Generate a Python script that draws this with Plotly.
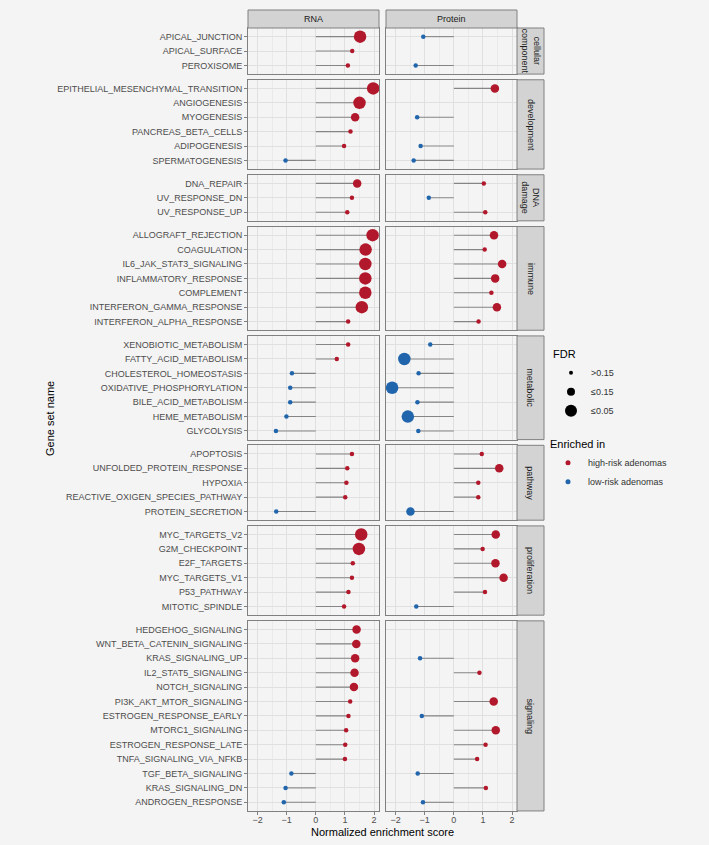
import plotly.graph_objects as go

# ---------------- data ----------------
facet_names = ["cellular<br>component", "development", "DNA<br>damage", "immune",
               "metabolic", "pathway", "proliferation", "signaling"]

gene_sets = [
    ["APICAL_JUNCTION", "APICAL_SURFACE", "PEROXISOME"],
    ["EPITHELIAL_MESENCHYMAL_TRANSITION", "ANGIOGENESIS", "MYOGENESIS",
     "PANCREAS_BETA_CELLS", "ADIPOGENESIS", "SPERMATOGENESIS"],
    ["DNA_REPAIR", "UV_RESPONSE_DN", "UV_RESPONSE_UP"],
    ["ALLOGRAFT_REJECTION", "COAGULATION", "IL6_JAK_STAT3_SIGNALING",
     "INFLAMMATORY_RESPONSE", "COMPLEMENT", "INTERFERON_GAMMA_RESPONSE",
     "INTERFERON_ALPHA_RESPONSE"],
    ["XENOBIOTIC_METABOLISM", "FATTY_ACID_METABOLISM", "CHOLESTEROL_HOMEOSTASIS",
     "OXIDATIVE_PHOSPHORYLATION", "BILE_ACID_METABOLISM", "HEME_METABOLISM",
     "GLYCOLYSIS"],
    ["APOPTOSIS", "UNFOLDED_PROTEIN_RESPONSE", "HYPOXIA",
     "REACTIVE_OXIGEN_SPECIES_PATHWAY", "PROTEIN_SECRETION"],
    ["MYC_TARGETS_V2", "G2M_CHECKPOINT", "E2F_TARGETS", "MYC_TARGETS_V1",
     "P53_PATHWAY", "MITOTIC_SPINDLE"],
    ["HEDGEHOG_SIGNALING", "WNT_BETA_CATENIN_SIGNALING", "KRAS_SIGNALING_UP",
     "IL2_STAT5_SIGNALING", "NOTCH_SIGNALING", "PI3K_AKT_MTOR_SIGNALING",
     "ESTROGEN_RESPONSE_EARLY", "MTORC1_SIGNALING", "ESTROGEN_RESPONSE_LATE",
     "TNFA_SIGNALING_VIA_NFKB", "TGF_BETA_SIGNALING", "KRAS_SIGNALING_DN",
     "ANDROGEN_RESPONSE"],
]

rna_nes = [
    [1.52, 1.25, 1.10],
    [1.97, 1.50, 1.35, 1.19, 0.97, -1.04],
    [1.42, 1.24, 1.08],
    [1.95, 1.71, 1.70, 1.70, 1.70, 1.58, 1.11],
    [1.11, 0.72, -0.82, -0.88, -0.88, -1.01, -1.37],
    [1.24, 1.08, 1.05, 1.01, -1.36],
    [1.56, 1.48, 1.27, 1.24, 1.12, 0.97],
    [1.40, 1.39, 1.35, 1.33, 1.31, 1.18, 1.12, 1.04, 1.01, 1.00, -0.84, -1.04, -1.10],
]
rna_fdr = [
    ["≤0.05", ">0.15", ">0.15"],
    ["≤0.05", "≤0.05", "≤0.15", ">0.15", ">0.15", ">0.15"],
    ["≤0.15", ">0.15", ">0.15"],
    ["≤0.05", "≤0.05", "≤0.05", "≤0.05", "≤0.05", "≤0.05", ">0.15"],
    [">0.15"] * 7,
    [">0.15"] * 5,
    ["≤0.05", "≤0.05", ">0.15", ">0.15", ">0.15", ">0.15"],
    ["≤0.15", "≤0.15", "≤0.15", "≤0.15", "≤0.15"] + [">0.15"] * 8,
]

protein_nes = [
    [-1.05, None, -1.31],
    [1.41, None, -1.26, None, -1.14, -1.38],
    [1.03, -0.86, 1.08],
    [1.38, 1.06, 1.66, 1.42, 1.29, 1.48, 0.85],
    [-0.81, -1.70, -1.21, -2.12, -1.25, -1.58, -1.22],
    [0.96, 1.56, 0.84, 0.84, -1.49],
    [1.44, 0.99, 1.43, 1.71, 1.07, -1.29],
    [None, None, -1.16, 0.88, None, 1.37, -1.10, 1.44, 1.09, 0.80, -1.24, 1.10, -1.06],
]
protein_fdr = [
    [">0.15", None, ">0.15"],
    ["≤0.15", None, ">0.15", None, ">0.15", ">0.15"],
    [">0.15", ">0.15", ">0.15"],
    ["≤0.15", ">0.15", "≤0.15", "≤0.15", ">0.15", "≤0.15", ">0.15"],
    [">0.15", "≤0.05", ">0.15", "≤0.05", ">0.15", "≤0.05", ">0.15"],
    [">0.15", "≤0.15", ">0.15", ">0.15", "≤0.15"],
    ["≤0.15", ">0.15", "≤0.15", "≤0.15", ">0.15", ">0.15"],
    [None, None, ">0.15", ">0.15", None, "≤0.15", ">0.15", "≤0.15", ">0.15", ">0.15",
     ">0.15", ">0.15", ">0.15"],
]

column_names = ["RNA", "Protein"]
fdr_levels = [">0.15", "≤0.15", "≤0.05"]
enriched_levels = ["high-risk adenomas", "low-risk adenomas"]
x_ticks = [-2, -1, 0, 1, 2]

# ---------------- styling ----------------
W, H = 709, 845
FONT = "Liberation Sans, Arial, sans-serif"
BG = "#F4F4F4"
RED = "#B2182B"
BLUE = "#2166AC"
SEG = "#858585"
BORDER = "#808080"
STRIP_FILL = "#D3D3D3"
GRID = "#E0E0E0"
GRID_MINOR = "#EAEAEA"
SIZE = {">0.15": 4.5, "≤0.15": 8.5, "≤0.05": 12.5}
COLOR = {"high-risk adenomas": RED, "low-risk adenomas": BLUE}
XRANGE = [-2.33, 2.17]

ROW = 14.4
GAP = 5.7
TOP = 28.0
COLS = [(248, 379), (386, 517)]
STRIP_R = (517, 544)
STRIP_T = (10, 28)


def px_x(p):
    return p / W


def px_y(p):
    return 1 - p / H


fig = go.Figure()
layout = {}
shapes = []
annotations = []

cursor = TOP
n_groups = len(gene_sets)
for gi, names in enumerate(gene_sets):
    n = len(names)
    y0 = cursor
    y1 = y0 + (n + 0.2) * ROW
    cursor = y1 + GAP
    last = gi == n_groups - 1
    for ci, (col_vals, col_fdr) in enumerate([(rna_nes, rna_fdr), (protein_nes, protein_fdr)]):
        k = 2 * gi + ci + 1
        xname = "x" if k == 1 else f"x{k}"
        yname = "y" if k == 1 else f"y{k}"
        xa = "xaxis" if k == 1 else f"xaxis{k}"
        ya = "yaxis" if k == 1 else f"yaxis{k}"
        vals = col_vals[gi]
        fdrs = col_fdr[gi]

        seg_x, seg_y = [], []
        px, py, pc, ps = [], [], [], []
        for name, v, f in zip(names, vals, fdrs):
            if v is None:
                continue
            seg_x += [0, v, None]
            seg_y += [name, name, None]
            px.append(v)
            py.append(name)
            pc.append(COLOR[enriched_levels[0] if v > 0 else enriched_levels[1]])
            ps.append(SIZE[f])
        fig.add_trace(go.Scatter(x=seg_x, y=seg_y, mode="lines",
                                 line=dict(color=SEG, width=1.1),
                                 xaxis=xname, yaxis=yname, showlegend=False,
                                 hoverinfo="skip"))
        fig.add_trace(go.Scatter(x=px, y=py, mode="markers",
                                 marker=dict(color=pc, size=ps, opacity=1, line=dict(width=0)),
                                 xaxis=xname, yaxis=yname, showlegend=False))

        layout[xa] = dict(
            domain=[px_x(COLS[ci][0]), px_x(COLS[ci][1])],
            anchor=yname, range=XRANGE, tickmode="array", tickvals=x_ticks,
            showgrid=True, gridcolor=GRID, gridwidth=1,
            minor=dict(dtick=0.5, tick0=0, showgrid=True, gridcolor=GRID_MINOR, gridwidth=0.6),
            zeroline=False, showline=True, mirror=True, linecolor=BORDER, linewidth=1,
            showticklabels=last, ticks="outside" if last else "", ticklen=3,
            ticklabelstandoff=-3,
            tickcolor=BORDER, tickfont=dict(size=9, color="#4D4D4D", family=FONT),
        )
        layout[ya] = dict(
            domain=[px_y(y1), px_y(y0)], anchor=xname,
            type="category", categoryorder="array", categoryarray=list(reversed(names)),
            range=[-0.6, n - 0.4],
            showgrid=True, gridcolor=GRID, gridwidth=1, zeroline=False,
            showline=True, mirror=True, linecolor=BORDER, linewidth=1,
            showticklabels=(ci == 0), ticks="outside" if ci == 0 else "", ticklen=3,
            tickcolor=BORDER, tickfont=dict(size=9, color="#4D4D4D", family=FONT),
        )
    # right strip
    shapes.append(dict(type="rect", xref="paper", yref="paper",
                       x0=px_x(STRIP_R[0]), x1=px_x(STRIP_R[1]),
                       y0=px_y(y1), y1=px_y(y0),
                       fillcolor=STRIP_FILL, line=dict(color=BORDER, width=1)))
    annotations.append(dict(xref="paper", yref="paper",
                            x=px_x((STRIP_R[0] + STRIP_R[1]) / 2),
                            y=px_y((y0 + y1) / 2), text=facet_names[gi],
                            textangle=90, showarrow=False,
                            font=dict(size=9, color="#1A1A1A", family=FONT),
                            xanchor="center", yanchor="middle"))

# top strips
for ci, cname in enumerate(column_names):
    shapes.append(dict(type="rect", xref="paper", yref="paper",
                       x0=px_x(COLS[ci][0]), x1=px_x(COLS[ci][1]),
                       y0=px_y(STRIP_T[1]), y1=px_y(STRIP_T[0]),
                       fillcolor=STRIP_FILL, line=dict(color=BORDER, width=1)))
    annotations.append(dict(xref="paper", yref="paper",
                            x=px_x((COLS[ci][0] + COLS[ci][1]) / 2),
                            y=px_y((STRIP_T[0] + STRIP_T[1]) / 2), text=cname,
                            showarrow=False, xanchor="center", yanchor="middle",
                            font=dict(size=9, color="#1A1A1A", family=FONT)))

# axis titles
annotations.append(dict(xref="paper", yref="paper", x=px_x((COLS[0][0] + COLS[1][1]) / 2),
                        y=px_y(832), text="Normalized enrichment score", showarrow=False,
                        xanchor="center", yanchor="middle",
                        font=dict(size=11, color="#000000", family=FONT)))
annotations.append(dict(xref="paper", yref="paper", x=px_x(50), y=px_y(419),
                        text="Gene set name", showarrow=False, textangle=-90,
                        xanchor="center", yanchor="middle",
                        font=dict(size=11, color="#000000", family=FONT)))

# legend entries
for lvl in fdr_levels:
    fig.add_trace(go.Scatter(x=[None], y=[None], mode="markers", name=lvl,
                             marker=dict(color="black", size=SIZE[lvl] - 0.5, opacity=1),
                             legend="legend", showlegend=True))
for lvl in enriched_levels:
    fig.add_trace(go.Scatter(x=[None], y=[None], mode="markers", name=lvl,
                             marker=dict(color=COLOR[lvl], size=5, opacity=1),
                             legend="legend2", showlegend=True))

fig.update_layout(
    width=W, height=H, margin=dict(l=0, r=0, t=0, b=0),
    paper_bgcolor=BG, plot_bgcolor=BG,
    font=dict(family=FONT, color="#333333"),
    shapes=shapes, annotations=annotations,
    legend=dict(x=px_x(551), y=px_y(344), xanchor="left", yanchor="top",
                title=dict(text="FDR", font=dict(size=11, color="#000000")),
                font=dict(size=9, color="#333333"), bgcolor="rgba(0,0,0,0)",
                itemsizing="trace", tracegroupgap=0),
    legend2=dict(x=px_x(548), y=px_y(434), xanchor="left", yanchor="top",
                 title=dict(text="Enriched in", font=dict(size=11, color="#000000")),
                 font=dict(size=9, color="#333333"), bgcolor="rgba(0,0,0,0)",
                 itemsizing="trace", tracegroupgap=0),
    **layout,
)

fig.write_html("out.html",
               config={"displayModeBar": False},
               post_script="document.body.style.margin='0';"
                           "document.body.style.background='#F4F4F4';")
